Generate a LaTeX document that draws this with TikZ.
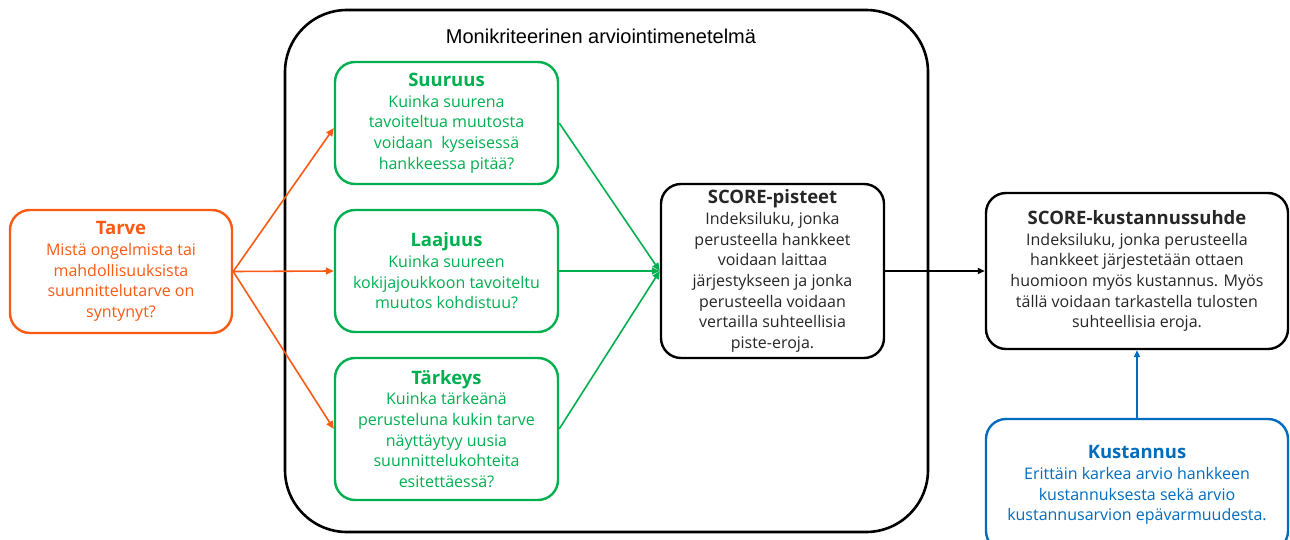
\documentclass[tikz,border=0pt]{standalone}
\usepackage{fontspec}
\setmainfont{Open Sans}
\newfontfamily\titlefont{Liberation Sans}
\usetikzlibrary{arrows.meta}
\definecolor{orng}{RGB}{250,90,20}
\definecolor{grn}{RGB}{0,176,80}
\definecolor{blu}{RGB}{0,108,190}
\tikzset{
  box/.style={draw, rounded corners=20pt, line width=2.4pt, align=center, inner sep=0pt,
    font=\fontsize{16}{20.7}\selectfont},
  orngbox/.style={box, draw=orng, text=orng},
  grnbox/.style={box, draw=grn, text=grn},
  blkbox/.style={box, draw=black, text=black!85},
  blubox/.style={box, draw=blu, text=blu},
  conn/.style={line width=1.6pt, -{Triangle[length=8pt,width=7pt]}},
}
\newcommand{\hd}[1]{{\fontsize{18.5}{21.5}\selectfont\bfseries #1}}
\begin{document}
\begin{tikzpicture}[x=1pt,y=1pt]
\useasboundingbox[fill=white] (0,0) rectangle (1290,-540);
% container
\draw[line width=2.6pt, rounded corners=62pt] (285,-10) rectangle (928,-532);
\node[font=\titlefont\fontsize{20}{23}\selectfont] (ttl) at (601,-36) {Monikriteerinen arviointimenetelmä};
% nodes
\node[orngbox, minimum width=222pt, minimum height=123pt] (tarve) at (121,-271.5)
  {\hd{Tarve}\\Mistä ongelmista tai\\mahdollisuuksista\\suunnittelutarve on\\syntynyt?};
\node[grnbox, minimum width=223pt, minimum height=122pt] (suuruus) at (446.5,-123)
  {\hd{Suuruus}\\Kuinka suurena\\tavoiteltua muutosta\\voidaan\ \ kyseisessä\\hankkeessa pitää?};
\node[grnbox, minimum width=223pt, minimum height=122pt] (laajuus) at (446.5,-271)
  {\hd{Laajuus}\\Kuinka suureen\\kokijajoukkoon tavoiteltu\\muutos kohdistuu?};
\node[grnbox, minimum width=223pt, minimum height=142pt] (tarkeys) at (446.5,-429)
  {\hd{Tärkeys}\\Kuinka tärkeänä\\perusteluna kukin tarve\\näyttäytyy uusia\\suunnittelukohteita\\esitettäessä?};
\node[blkbox, minimum width=223pt, minimum height=174pt] (score) at (772.5,-271)
  {\hd{SCORE-pisteet}\\Indeksiluku, jonka\\perusteella hankkeet\\voidaan laittaa\\järjestykseen ja jonka\\perusteella voidaan\\vertailla suhteellisia\\piste-eroja.};
\node[blkbox, minimum width=302pt, minimum height=156pt] (ratio) at (1137,-271)
  {\hd{SCORE-kustannussuhde}\\Indeksiluku, jonka perusteella\\hankkeet järjestetään ottaen\\huomioon myös kustannus. Myös\\tällä voidaan tarkastella tulosten\\suhteellisia eroja.};
\node[blubox, minimum width=302pt, minimum height=132pt] (kust) at (1137,-485)
  {\hd{Kustannus}\\Erittäin karkea arvio hankkeen\\kustannuksesta sekä arvio\\kustannusarvion epävarmuudesta.};
% connectors
\draw[conn, orng] (tarve.east) -- (suuruus.west |- 0,-128);
\draw[conn, orng] (tarve.east) -- (laajuus.west);
\draw[conn, orng] (tarve.east) -- (tarkeys.west);
\draw[conn, grn] (suuruus.east) -- (score.west);
\draw[conn, grn] (laajuus.east) -- (score.west);
\draw[conn, grn] (tarkeys.east) -- (score.west);
\draw[line width=1.6pt, -{Triangle[length=7pt,width=6pt]}] (score.east) -- (ratio.west);
\draw[line width=1.6pt, blu, -{Triangle[length=7pt,width=6pt]}] (kust.north) -- (ratio.south);
\end{tikzpicture}
\end{document}
